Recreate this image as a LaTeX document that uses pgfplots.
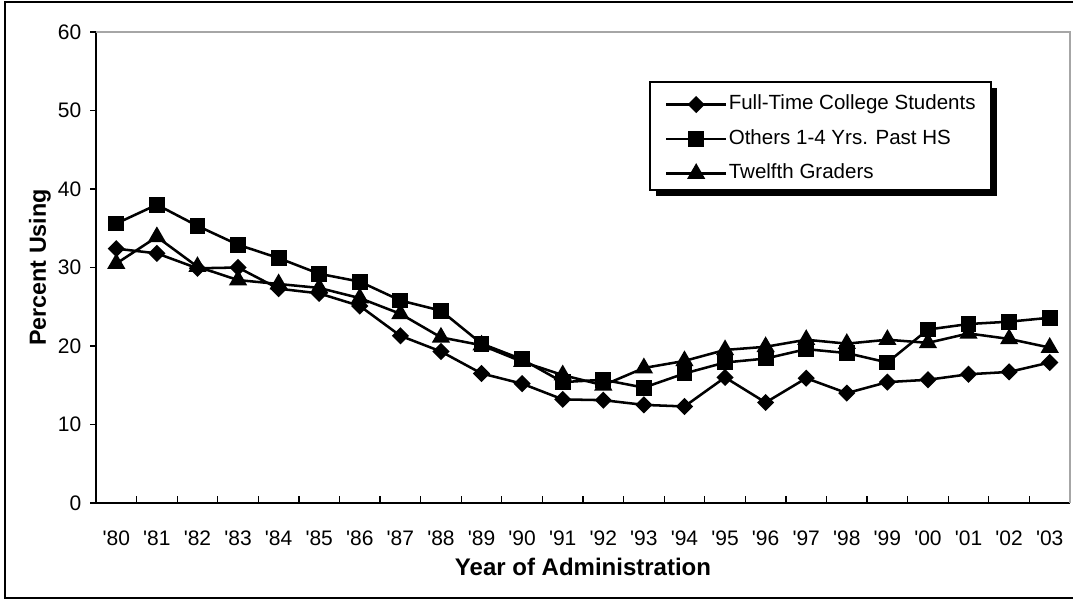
\documentclass[border=0pt]{standalone}
\usepackage{pgfplots}
\pgfplotsset{compat=1.18}
\usepackage{fontspec}
\setmainfont{Liberation Sans}
\pgfplotstableread{
x ft oth tw
0 32.4 35.6 30.5
1 31.8 38.0 33.9
2 29.9 35.3 30.1
3 30.0 32.9 28.4
4 27.3 31.2 27.9
5 26.7 29.2 27.4
6 25.1 28.2 26.1
7 21.3 25.8 24.1
8 19.3 24.5 21.1
9 16.5 20.3 20.1
10 15.2 18.3 18.0
11 13.2 15.4 16.3
12 13.1 15.7 15.0
13 12.5 14.7 17.2
14 12.3 16.5 18.1
15 16.0 17.9 19.5
16 12.8 18.4 19.9
17 15.9 19.6 20.8
18 14.0 19.1 20.3
19 15.4 17.9 20.8
20 15.7 22.1 20.4
21 16.4 22.8 21.6
22 16.7 23.1 20.9
23 17.9 23.6 19.8
}\datatable
\newcommand{\tickfont}{\fontsize{15.75}{18}\selectfont}
\newcommand{\q}[1]{{\tickfont\textquotesingle#1}}
\begin{document}
\begin{tikzpicture}[x=1pt,y=1pt]
\useasboundingbox (0,0) rectangle (804.75,450.75);
\begin{axis}[
  at={(72pt,73.5pt)}, anchor=south west,
  scale only axis, width=730.5pt, height=353.25pt,
  xmin=-0.5, xmax=23.5, ymin=0, ymax=60,
  axis lines=left, axis line style={-, line width=1.2pt, black},
  xtick={0,...,23},
  xticklabels={\q{80},\q{81},\q{82},\q{83},\q{84},\q{85},\q{86},\q{87},\q{88},\q{89},\q{90},\q{91},\q{92},\q{93},\q{94},\q{95},\q{96},\q{97},\q{98},\q{99},\q{00},\q{01},\q{02},\q{03}},
  major x tick style={draw=none},
  minor xtick={0.5,1.5,...,22.5},
  minor x tick style={black, line width=0.9pt},
  minor tick length=5pt,
  ytick={0,10,...,60},
  ytick align=outside,
  major tick length=4.5pt,
  y tick style={black, line width=0.9pt},
  xtick align=inside,
  /pgf/number format/assume math mode=true,
  yticklabel={{\tickfont\pgfmathprintnumber{\tick}}},
  xticklabel style={yshift=-17pt},
  yticklabel style={xshift=-3pt},
  xlabel={Year of Administration},
  ylabel={Percent Using},
  every axis x label/.style={at={(axis description cs:0.5,-0.1365)}, anchor=center, font=\fontsize{18}{21}\selectfont\bfseries},
  every axis y label/.style={at={(axis description cs:-0.0575,0.5)}, rotate=90, anchor=center, font=\fontsize{17.5}{20}\selectfont\bfseries},
  clip=false,
  every axis plot/.append style={line width=1.9pt, black, mark options={solid}},
  legend style={at={(rel axis cs:0.7443,0.7726)}, anchor=center,
    draw=none, fill=none, inner sep=0pt,
    font=\fontsize{15.4}{18}\selectfont,
    row sep=11.9pt,
    nodes={inner xsep=1pt, inner ysep=0pt, text height=11pt, text depth=3pt}},
  legend cell align=left,
  legend image code/.code={\draw[mark repeat=2,mark phase=2] plot coordinates {(0pt,0pt) (22.5pt,0pt) (45pt,0pt)};},
]
\addplot[mark=square*, mark size=3.6pt, mark options={rotate=45}] table[x=x,y=ft] {\datatable};
\addlegendentry{Full-Time College Students}
\addplot[mark=square*, mark size=5pt] table[x=x,y=oth] {\datatable};
\addlegendentry{Others 1-4 Yrs. Past HS}
\addplot[mark=triangle*, mark size=6pt] table[x=x,y=tw] {\datatable};
\addlegendentry{Twelfth Graders}
\draw[gray!70, line width=1.2pt] (rel axis cs:0,1) -- (rel axis cs:1,1) -- (rel axis cs:1,0);
\fill[black] (rel axis cs:0.57445,0.65282) rectangle (rel axis cs:0.92455,0.88212);
\filldraw[fill=white, draw=black, line width=1.4pt] (rel axis cs:0.5688,0.6645) rectangle (rel axis cs:0.9189,0.8938);
\end{axis}
\draw[black, line width=1.5pt] (820,2.25) -- (3.75,2.25) -- (3.75,449.25) -- (820,449.25);
\end{tikzpicture}
\end{document}
